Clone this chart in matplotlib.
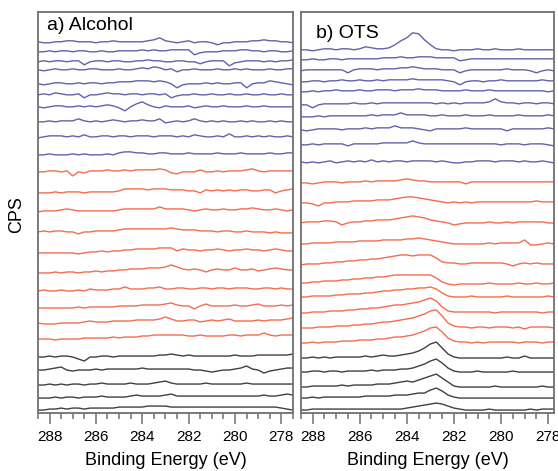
import matplotlib
matplotlib.use('agg')
import matplotlib.pyplot as plt
from matplotlib.ticker import MultipleLocator

import numpy as np

plt.rcParams['font.family'] = ['Liberation Sans', 'DejaVu Sans']

# binding energy grid, 0.25 eV steps
energy = np.arange(288.5, 277.4, -0.25)

# offsets of each trace (top to bottom), and the wiggles
alcohol_blue_offsets = [371, 361, 351, 343, 329, 318, 306, 291, 276, 258]
alcohol_red_offsets = [241, 220, 201, 181, 160, 140, 122, 105, 90, 74]
alcohol_black_offsets = [56, 43, 28, 15, 3]

alcohol_blue = [
    "0 -1 -1 0 0  1 1 0 0 0  -1 0 0 1 0  0 0 0 0 1  2 4 1 0 -1  0 1 -1 0 0  -1 -3 -1 -1 0  0 0 1 1 2  1 1 0 0 -1",
    "0 0 1 0 1  1 0 1 1 0  0 1 0 0 1  1 1 1 2 1  2 1 1 2 2  2 2 -3 -1 0  0 0 1 1 1  2 2 1 1 0  1 1 0 0 1",
    "0 1 0 1 1  0 1 1 -3 0  1 1 0 1 1  0 0 1 1 2  1 1 0 0 1  1 0 0 -2 0  1 1 1 -4 -1  0 1 1 1 0  1 0 1 1 2",
    "0 -1 0 1 0  0 1 0 0 1  1 0 0 0 1  0 0 1 2 1  3 2 0 1 -2  0 0 1 0 0  0 1 0 0 1  0 1 0 0 0  1 0 0 1 1",
    "0 -1 0 1 1  0 0 1 0 1  1 0 1 1 2  2 2 3 3 3  2 3 2 0 -4  -1 0 0 0 1  0 1 0 0 1  1 -4 0 1 1  3 2 1 0 -1",
    "0 1 0 2 1  0 0 1 -3 0  0 1 2 1 1  0 1 1 0 1  1 0 1 -3 -1  0 0 1 0 0  1 0 0 1 0  0 1 0 0 1  0 0 1 0 0",
    "0 -1 0 1 1  0 0 1 0 1  0 1 2 1 -1  -4 0 3 5 2  0 -1 1 0 0  0 1 -1 0 1  0 0 1 0 0  0 1 0 0 1  0 0 0 0 0",
    "0 0 1 0 1  1 1 3 1 0  1 0 1 2 1  0 1 1 2 1  1 3 -1 0 1  0 1 3 1 0  1 0 1 0 0  1 0 1 0 0  1 0 1 0 0",
    "-1 0 1 1 1  0 1 0 2 0  0 1 1 0 1  1 0 1 1 1  0 1 1 1 0  1 0 2 1 0  0 1 0 3 0  0 1 0 1 0  1 0 0 1 0",
    "0 0 1 0 0  0 1 0 1 0  0 0 1 0 2  3 3 2 2 1  1 2 2 1 1  1 2 1 1 1  1 2 1 1 1  2 1 1 1 1  2 1 1 2 2",
]
alcohol_red = [
    "0 0 1 1 0  1 -4 0 -1 1  1 1 2 1 1  2 1 2 2 2  2 3 2 -1 -2  0 0 0 2 0  0 1 0 1 1  1 2 3 1 0  1 1 1 1 1",
    "0 0 0 1 0  1 1 1 0 1  1 1 1 1 2  4 4 4 4 3  4 4 4 3 3  3 2 2 0 3  2 3 2 3 2  3 3 2 2 3  3 0 2 3 4",
    "0 1 1 1 2  3 2 1 1 1  1 1 1 1 2  3 3 3 3 3  3 5 3 3 3  3 2 1 2 3  2 2 3 2 2  3 3 4 3 2  2 3 2 1 2",
    "0 1 0 1 1  0 0 -2 0 0  1 1 1 1 2  3 3 3 3 3  3 3 3 4 3  2 2 2 1 1  1 0 1 1 0  0 1 0 0 0  -1 0 -1 -1 -1",
    "0 0 0 0 0  0 0 -1 0 1  1 2 1 2 2  3 3 4 4 4  4 5 5 5 2  4 3 3 2 3  3 4 3 2 3  3 4 3 3 2  3 4 3 2 2",
    "0 0 0 1 0  1 1 0 1 1  2 1 2 2 3  3 4 4 4 5  5 5 6 8 6  4 3 4 3 1  3 4 3 3 5  3 3 4 2 3  4 5 4 3 3",
    "0 1 0 0 1  0 0 1 0 2  1 1 1 2 2  4 2 2 2 3  3 4 2 2 3  3 2 2 3 3  2 3 3 2 3  3 3 2 2 3  3 2 3 2 2",
    "0 0 0 0 0  0 0 1 0 1  1 1 1 1 2  2 2 2 3 3  3 3 4 5 3  2 2 -1 2 4  2 2 2 2 3  2 2 3 4 2  2 2 3 2 3",
    "0 -1 -1 -1 0  0 0 0 1 2  1 1 1 2 2  2 2 3 3 3  3 4 6 4 2  2 3 3 1 2  3 2 3 4 2  2 2 2 3 2  3 3 3 4 5",
    "0 0 0 -1 0  0 0 0 1 1  1 1 1 2 1  2 2 2 3 3  4 4 4 4 4  4 3 3 4 3  3 3 3 4 4  3 4 4 4 6  4 3 4 4 4",
]
alcohol_black = [
    "0 0 1 0 1  1 0 -2 -4 0  0 1 1 0 1  1 1 1 1 1  1 2 2 3 2  1 2 1 1 1  1 1 1 1 2  1 1 1 2 2  2 2 2 2 3",
    "0 0 1 2 3  0 -1 0 0 0  1 0 1 1 1  1 1 1 2 1  1 1 1 1 1  1 1 0 0 -1  -2 -1 0 0 1  2 4 1 0 -3  -1 0 1 2 2",
    "0 0 1 0 1  0 1 1 0 1  1 2 1 1 1  1 2 1 1 1  2 3 4 2 1  1 1 1 1 2  1 1 1 1 1  1 2 1 1 1  1 1 1 1 1",
    "0 0 0 1 0  1 1 0 1 1  1 2 1 1 1  1 2 3 2 2  2 2 3 4 2  2 2 2 2 2  2 2 2 2 2  2 2 2 2 3  2 2 3 4 3",
    "0 0 1 1 2  1 2 2 1 2  2 2 2 2 3  3 3 3 3 4  4 4 4 3 3  3 3 3 3 3  3 3 3 3 3  3 3 3 3 3  3 3 2 1 0",
]

ots_blue_offsets = [363, 353, 342, 331, 321, 308, 296, 283, 268, 251]
ots_red_offsets = [230, 210, 190, 169, 148, 130, 116, 100, 85, 70]
ots_black_offsets = [55, 41, 26, 15, 3]

ots_blue = [
    "0 0 -1 0 1  1 0 1 1 0  1 3 2 1 1  2 5 9 12 17  16 10 5 1 0  0 -1 0 0 0  1 0 0 1 0  0 0 1 0 0  0 0 0 0 0",
    "0 0 1 0 0  1 1 0 1 1  1 1 1 1 2  2 2 3 2 2  3 3 3 2 2  2 2 -1 0 1  1 1 1 1 1  1 1 1 1 1  1 1 1 1 1",
    "0 1 1 1 1  1 1 1 -2 1  2 2 2 1 2  2 2 3 3 4  3 2 2 2 1  1 1 -2 0 1  1 1 1 1 1  2 1 1 1 0  -2 0 1 0 1",
    "0 0 1 1 0  1 1 2 1 1  2 1 1 2 1  2 2 2 2 3  2 2 2 2 2  1 0 -3 0 1  1 0 1 1 2  1 1 1 1 1  1 2 1 1 2",
    "0 0 1 0 1  1 2 1 1 1  2 1 1 2 2  2 1 2 2 2  3 2 2 2 1  1 1 1 2 1  1 1 2 1 1  1 1 1 1 1  1 1 0 1 2",
    "0 0 -3 0 1  1 1 1 1 2  1 1 2 1 2  2 2 2 2 2  2 2 2 1 2  1 2 1 2 2  2 2 3 6 3  2 2 1 2 2  1 2 2 1 1",
    "0 0 0 1 0  1 1 1 1 1  1 1 2 1 2  2 2 4 2 2  2 2 1 1 2  1 1 1 2 1  1 1 2 1 1  1 1 2 1 1  1 1 2 1 1",
    "0 -1 0 1 1  1 1 0 1 1  1 2 1 2 2  2 4 2 2 2  1 0 -1 1 1  1 1 1 2 1  1 1 1 1 1  -1 1 1 1 1  1 1 2 1 1",
    "0 0 1 0 1  1 1 1 -1 1  1 1 1 1 2  2 2 2 2 4  2 1 1 1 1  1 1 1 1 1  1 1 1 1 0  1 1 1 0 1  1 1 0 -1 1",
    "0 -1 0 -1 0  1 -1 0 1 0  1 0 2 0 1  0 1 1 0 1  1 1 1 0 1  0 -1 -1 0 0  1 1 1 0 1  1 1 0 1 0  0 1 0 -1 1",
]
ots_red = [
    "0 0 -1 0 1  1 1 0 1 1  1 2 1 2 2  2 2 3 4 3  2 2 1 1 1  1 1 1 -1 1  1 1 1 1 1  1 1 1 1 1  1 1 1 1 1",
    "0 0 -1 -3 0  0 1 1 1 2  2 2 2 3 3  3 4 5 6 6  5 4 3 2 1  0 1 0 1 0  1 1 1 1 1  1 1 1 1 1  2 1 1 1 1",
    "0 1 1 1 2  2 1 -2 0 1  1 2 2 3 3  3 4 5 6 7  6 5 3 2 1  0 -2 -1 0 0  0 0 1 0 0  1 0 1 1 1  1 1 0 0 -1",
    "0 0 1 1 1  1 2 2 2 2  3 3 3 3 4  4 4 4 5 5  6 5 4 3 2  1 0 0 0 0  0 0 1 0 1  1 1 1 4 -1  -1 0 1 0 0",
    "0 1 1 1 2  2 3 3 4 4  5 5 6 6 7  8 9 10 10 9  10 10 10 7 3  2 2 1 1 2  2 2 2 2 2  1 -1 1 2 1  2 1 1 1 1",
    "0 0 1 1 2  2 2 3 3 4  4 5 5 6 6  7 8 8 8 8  8 8 8 5 1  -1 -2 -1 -1 -1  -1 -1 0 -1 -1  -1 -1 0 -1 -1  0 -1 -1 0 -1",
    "0 0 1 1 1  1 2 2 3 3  3 4 4 5 6  6 7 7 8 8  9 9 10 8 4  1 0 0 0 1  0 0 0 0 0  1 0 0 0 0  0 0 1 0 0",
    "0 0 1 1 1  2 2 2 3 3  4 4 5 5 6  7 8 8 9 10  11 13 15 12 6  2 1 1 1 1  1 1 1 0 1  1 1 1 1 1  1 0 1 1 1",
    "0 0 0 1 1  1 2 2 2 3  3 4 4 5 6  6 7 8 9 10  12 14 17 18 12  5 2 1 1 0  1 1 0 1 1  1 0 1 -1 1  1 1 1 0 1",
    "0 0 1 0 1  1 1 2 2 2  3 3 3 4 4  5 6 6 7 8  10 12 15 16 11  5 2 1 1 0  1 0 1 1 1  1 1 0 1 1  1 0 1 1 2",
]
ots_black = [
    "0 0 1 0 1  0 1 1 1 1  1 2 1 2 3  2 2 3 4 5  7 10 14 16 10  4 1 0 0 0  0 0 0 0 0  1 0 0 2 0  0 0 0 0 0",
    "0 0 1 1 0  1 1 0 1 1  1 1 2 1 2  2 2 3 3 4  6 8 11 13 9  4 1 0 0 0  1 0 0 0 0  0 1 0 0 0  0 0 0 0 0",
    "0 0 1 1 1  1 1 2 1 2  2 2 2 3 3  3 4 5 6 5  7 9 11 13 9  5 1 0 0 0  0 0 0 1 0  0 0 0 0 0  0 1 0 0 0",
    "0 0 1 0 1  1 1 1 1 1  1 2 2 2 2  2 3 3 3 4  5 5 8 10 7  3 1 0 0 0  0 0 0 0 0  0 0 0 0 0  0 0 0 0 0",
    "0 0 1 1 1  1 1 1 1 1  1 1 1 1 1  1 1 1 2 3  4 5 6 7 6  4 2 1 0 0  0 0 1 0 0  0 0 0 0 1  0 1 1 1 1",
]

blue = '#6262ac'
red = '#f46c4c'
black = '#404040'
frame = '#707070'


def draw_traces(ax, traces, offsets, color):
    for s, off in zip(traces, offsets):
        vals = np.array(s.split(), dtype=float)
        assert len(vals) == len(energy), (len(vals), s)
        ax.plot(energy, vals + off, color=color, lw=1.0)


fig = plt.figure(figsize=(5.58, 4.71), dpi=100)
ax_a = fig.add_axes([0.068, 0.123, 0.457, 0.852])
ax_b = fig.add_axes([0.539, 0.123, 0.454, 0.852])

draw_traces(ax_a, alcohol_blue, alcohol_blue_offsets, blue)
draw_traces(ax_a, alcohol_red, alcohol_red_offsets, red)
draw_traces(ax_a, alcohol_black, alcohol_black_offsets, black)

draw_traces(ax_b, ots_blue, ots_blue_offsets, blue)
draw_traces(ax_b, ots_red, ots_red_offsets, red)
draw_traces(ax_b, ots_black, ots_black_offsets, black)

ax_a.set_xlim(288.5, 277.5)
ax_b.set_xlim(288.5, 277.75)

for ax in (ax_a, ax_b):
    ax.set_ylim(0, 401)
    ax.set_yticks([])
    ax.xaxis.set_major_locator(MultipleLocator(2))
    ax.xaxis.set_minor_locator(MultipleLocator(0.5))
    ax.tick_params(axis='x', which='major', direction='out', length=8, width=1.1,
                   color=frame, labelsize=11, pad=4)
    ax.tick_params(axis='x', which='minor', direction='out', length=4.5, width=1.1,
                   color=frame)
    for sp in ax.spines.values():
        sp.set_color(frame)
        sp.set_linewidth(1.3)
    ax.set_xlabel('Binding Energy (eV)', fontsize=13, labelpad=6)

ax_a.text(0.035, 0.967, 'a) Alcohol', transform=ax_a.transAxes, fontsize=14,
          ha='left', va='center')
ax_b.text(0.06, 0.945, 'b) OTS', transform=ax_b.transAxes, fontsize=14,
          ha='left', va='center')

fig.text(0.029, 0.545, 'CPS', rotation=90, fontsize=13, ha='center', va='center')

plt.savefig('out.png', format='png', transparent=False)
